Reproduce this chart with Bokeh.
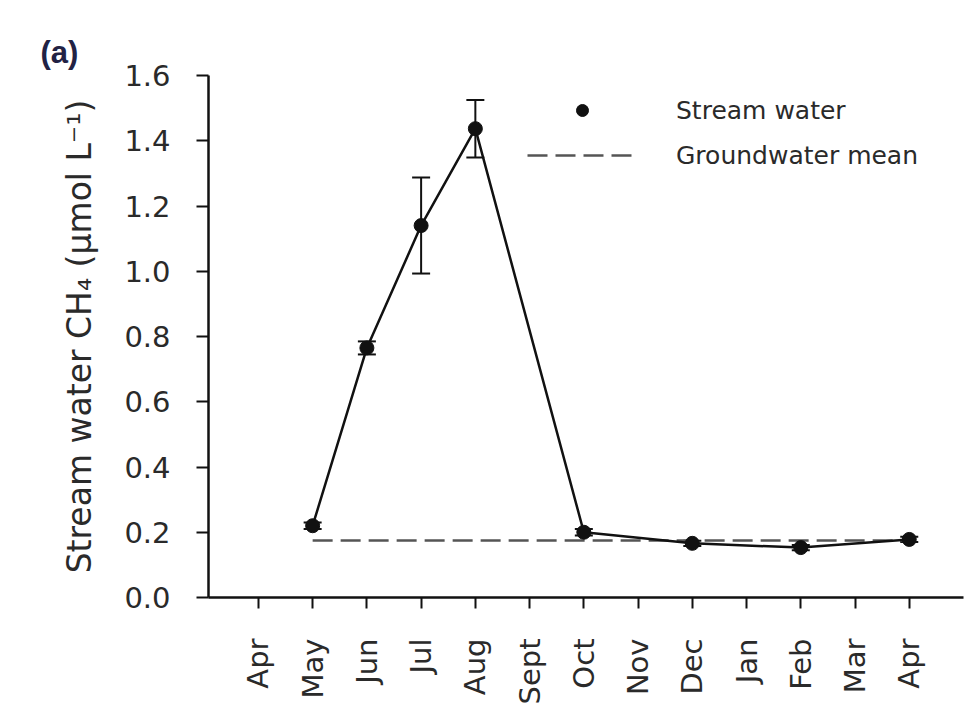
import math
from bokeh.plotting import figure
from bokeh.models import (Range1d, FixedTicker, Legend, LegendItem, Title,
                          Whisker, TeeHead, ColumnDataSource)
from bokeh.embed import file_html
from bokeh.resources import INLINE

# ---- data ----
month_keys = ["Apr0", "May", "Jun", "Jul", "Aug", "Sept", "Oct", "Nov",
              "Dec", "Jan", "Feb", "Mar", "Apr1"]
month_labels = ["Apr", "May", "Jun", "Jul", "Aug", "Sept", "Oct", "Nov",
                "Dec", "Jan", "Feb", "Mar", "Apr"]
sample_months = ["May", "Jun", "Jul", "Aug", "Oct", "Dec", "Feb", "Apr1"]
stream_ch4 = [0.22, 0.765, 1.14, 1.437, 0.20, 0.166, 0.153, 0.178]
stream_se = [0.01, 0.02, 0.147, 0.088, 0.01, 0.008, 0.008, 0.008]
gw_months = ["May", "Apr1"]
gw_mean = 0.175
y_ticks = [0.0, 0.2, 0.4, 0.6, 0.8, 1.0, 1.2, 1.4, 1.6]

xs = [month_keys.index(m) for m in sample_months]
src = ColumnDataSource(dict(
    x=xs, y=stream_ch4,
    lo=[v - e for v, e in zip(stream_ch4, stream_se)],
    hi=[v + e for v, e in zip(stream_ch4, stream_se)],
))
gw_x = [month_keys.index(m) for m in gw_months]

FONT = "DejaVu Sans"
TXT = "#2a2a2a"

p = figure(width=966, height=716, output_backend="svg", toolbar_location=None,
           x_range=Range1d(-0.92, 13.0), y_range=Range1d(0, 1.6),
           min_border_left=208, min_border_top=75, min_border_bottom=119,
           min_border_right=3)
p.outline_line_color = None
p.xgrid.visible = False
p.ygrid.visible = False
p.background_fill_color = "white"
p.border_fill_color = "white"

# panel letter
p.add_layout(Title(text="(a)", align="left", offset=-168,
                   text_font="Liberation Sans", text_font_style="bold",
                   text_font_size="31px", text_color="#222244",
                   standoff=12), "above")

# groundwater mean
gw = p.line(gw_x, [gw_mean, gw_mean], line_color="#555555", line_width=2.5,
            line_dash="20 8")
# stream line + error bars + points
p.line("x", "y", source=src, line_color="#111111", line_width=2.5)
wh = Whisker(base="x", lower="lo", upper="hi", source=src,
             line_color="#111111", line_width=2,
             upper_head=TeeHead(size=18, line_color="#111111", line_width=2),
             lower_head=TeeHead(size=18, line_color="#111111", line_width=2))
p.add_layout(wh)
pts = p.scatter("x", "y", source=src, size=14, fill_color="#111111",
                line_color="#111111")

# axes
for ax in (p.xaxis[0], p.yaxis[0]):
    ax.axis_line_width = 2.5
    ax.axis_line_color = "#111111"
    ax.major_tick_line_width = 2
    ax.major_tick_line_color = "#111111"
    ax.major_tick_in = 0
    ax.minor_tick_line_color = None
    ax.major_label_text_font = FONT
    ax.major_label_text_color = TXT

p.yaxis.ticker = FixedTicker(ticks=y_ticks)
p.yaxis.major_label_overrides = {t: f"{t:.1f}" for t in y_ticks}
p.yaxis.major_tick_out = 12
p.yaxis.major_label_standoff = 26
p.yaxis.major_label_text_font_size = "29px"
p.yaxis.axis_label = "Stream water CH\u2084 (\u03bcmol L\u207b\u00b9)"
p.yaxis.axis_label_text_font = FONT
p.yaxis.axis_label_text_font_style = "normal"
p.yaxis.axis_label_text_font_size = "33px"
p.yaxis.axis_label_text_color = TXT
p.yaxis.axis_label_standoff = 22

p.xaxis.ticker = FixedTicker(ticks=list(range(len(month_keys))))
p.xaxis.major_label_overrides = {i: lab for i, lab in enumerate(month_labels)}
p.xaxis.major_label_orientation = math.pi / 2
p.xaxis.major_tick_out = 11
p.xaxis.major_label_standoff = 30
p.xaxis.major_label_text_font_size = "29px"

legend = Legend(items=[LegendItem(label="Stream water", renderers=[pts]),
                       LegendItem(label="Groundwater mean", renderers=[gw])],
                location=(319, 427), orientation="vertical",
                glyph_width=110, glyph_height=30, label_height=30,
                label_standoff=39, spacing=15, padding=0, margin=0,
                border_line_color=None, background_fill_alpha=0,
                label_text_font=FONT, label_text_font_size="25px",
                label_text_color=TXT)
p.add_layout(legend)

open("out.html", "w").write(file_html(p, INLINE))
